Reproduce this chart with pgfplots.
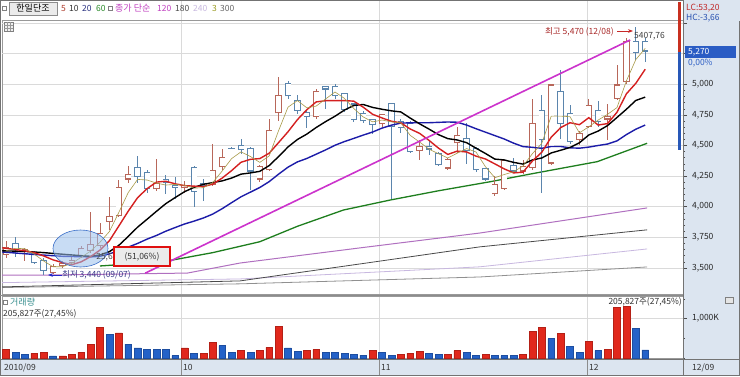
\documentclass[border=0pt]{standalone}
\usepackage{fontspec}
\setmainfont{Noto Sans CJK KR}
\usepackage{pgfplots}
\usepackage{pgfplotstable}
\pgfplotsset{compat=1.18}
\usetikzlibrary{arrows.meta}
\definecolor{upc}{HTML}{B8675A}
\definecolor{dnc}{HTML}{5B85AD}
\definecolor{ma3}{HTML}{A89A48}
\definecolor{ma5}{HTML}{D42020}
\definecolor{ma20}{HTML}{1C1CA8}
\definecolor{ma60}{HTML}{1E7E1E}
\definecolor{trend}{HTML}{CC33CC}
\definecolor{ma120}{HTML}{B070C0}
\definecolor{ma180}{HTML}{4A4A4A}
\definecolor{ma240}{HTML}{C8B8E0}
\definecolor{ma300}{HTML}{909090}
\definecolor{panel}{HTML}{DCE5F0}
\definecolor{vred}{HTML}{E1281C}
\definecolor{vblue}{HTML}{2462C8}
\definecolor{gridc}{HTML}{DADADA}
\definecolor{ellf}{HTML}{9CC0EC}
\definecolor{ellb}{HTML}{3A6EC8}
\definecolor{boxred}{HTML}{E01010}
\definecolor{c5}{HTML}{B04030}
\definecolor{c20}{HTML}{283080}
\definecolor{c60}{HTML}{2A8A2A}
\definecolor{cmag}{HTML}{C040C0}
\definecolor{c3}{HTML}{9A9A20}
\definecolor{lcred}{HTML}{C02828}
\definecolor{hcblue}{HTML}{2850B0}
\definecolor{posred}{HTML}{C83020}
\definecolor{posblue}{HTML}{2858B8}
\definecolor{pricebl}{HTML}{2A5CC4}
\definecolor{hitext}{HTML}{A82828}
\definecolor{hiarrow}{HTML}{C82828}
\definecolor{loarrow}{HTML}{2828C8}
\definecolor{lotext}{HTML}{3A3A8A}
\definecolor{teal}{HTML}{3A9090}
\newcommand{\fs}{\fontsize{8.5}{10}\selectfont}
\newcommand{\fk}{\fontsize{9}{10}\selectfont}
% up candles: index open high low close
\pgfplotstableread{
i o h l c
0 3610 3720 3580 3670
2 3630 3660 3560 3650
5 3460 3530 3450 3510
6 3520 3560 3500 3540
7 3540 3590 3520 3560
8 3590 3680 3580 3660
9 3640 3960 3620 3690
10 3680 3870 3660 3780
11 3880 4080 3810 3920
12 3930 4220 3920 4160
13 4225 4330 4190 4265
16 4145 4390 4130 4190
19 4160 4210 4110 4170
22 4180 4510 4170 4300
23 4325 4470 4300 4405
27 4225 4340 4200 4330
28 4300 4715 4290 4625
29 4765 5060 4700 4910
33 4735 4960 4720 4945
40 4675 4760 4650 4755
44 4460 4545 4380 4490
47 4315 4400 4300 4385
48 4520 4655 4440 4585
52 4105 4250 4090 4185
53 4150 4385 4140 4380
55 4290 4380 4270 4330
56 4320 4880 4300 4680
58 4355 5000 4340 4995
61 4545 4620 4500 4600
62 4655 4880 4640 4830
64 4715 4835 4545 4740
65 4885 5160 4870 4995
66 5020 5380 5000 5350
}\upT
% down candles
\pgfplotstableread{
i o h l c
1 3700 3750 3590 3650
3 3620 3640 3530 3540
4 3560 3580 3440 3480
14 4320 4415 4190 4245
15 4280 4300 4110 4145
17 4225 4260 4100 4195
18 4175 4240 4060 4160
20 4325 4330 4000 4125
21 4190 4230 4050 4170
24 4480 4490 4460 4475
25 4500 4550 4430 4465
26 4480 4490 4140 4290
30 5005 5030 4880 4905
31 4870 4910 4760 4785
32 4770 4780 4640 4735
34 4985 4990 4800 4960
35 4985 5000 4880 4905
36 4925 4930 4770 4790
37 4840 4850 4690 4710
38 4765 4780 4680 4700
39 4715 4720 4590 4670
41 4845 4850 4060 4655
42 4700 4720 4600 4645
43 4680 4700 4440 4450
45 4495 4545 4420 4470
46 4435 4445 4330 4340
49 4560 4680 4350 4455
50 4475 4490 4280 4300
51 4315 4320 4210 4225
54 4335 4400 4280 4290
57 4790 4915 4110 4545
59 4940 5120 4550 4680
60 4765 4830 4510 4530
63 4785 4865 4650 4695
67 5350 5470 5200 5260
68 5350 5380 5180 5270
}\dnT
\pgfplotsset{
 wick/.style={draw=none, mark=none, error bars/.cd, y dir=both, y explicit, error mark=none, error bar style={draw=#1, line width=0.7pt}},
 bodyout/.style={draw=none, mark=none, error bars/.cd, y dir=plus, y explicit, error mark=none, error bar style={draw=#1, line width=6.4pt, shorten <=-0.4pt, shorten >=-0.4pt}},
 bodyin/.style={draw=none, mark=none, error bars/.cd, y dir=plus, y explicit, error mark=none, error bar style={draw=white, line width=5pt, shorten <=0.75pt, shorten >=0.75pt}},
}
% #1 table, #2 colour, #3 column holding the lower end of the body
\newcommand{\candles}[3]{%
 \addplot[wick=#2] table[x=i, y=c, y error plus expr=\thisrow{h}-\thisrow{c}, y error minus expr=\thisrow{c}-\thisrow{l}] {#1};
 \addplot[bodyout=#2] table[x=i, y=#3, y error plus expr={max(abs(\thisrow{c}-\thisrow{o}),2)}] {#1};
 \addplot[bodyin] table[x=i, y=#3, y error plus expr={max(abs(\thisrow{c}-\thisrow{o}),2)}] {#1};
}
\begin{document}
\begin{tikzpicture}[x=1pt,y=1pt]
\useasboundingbox (0,0) rectangle (740,376);
\fill[white] (0,0) rectangle (740,376);
\fill[panel] (683,0) rectangle (740,376);
\fill[panel] (0,0) rectangle (740,17);
\foreach \xx in {181,379,587} {\draw[gridc] (\xx,17) -- (\xx,376);}
\foreach \xx in {181,379,587} {\draw[black!45] (\xx,0) -- (\xx,17);}
\draw[black!55] (0,17) -- (740,17);

% ---------------- price panel ----------------
\begin{axis}[at={(2pt,82pt)}, anchor=south west, scale only axis,
 width=681pt, height=274pt,
 xmin=-0.4255, xmax=72.02, ymin=3287, ymax=5525,
 axis line style={draw=black!40},
 xtick=\empty, ytick={3500,3750,...,5000}, minor y tick num=4,
 extra y ticks={5250,5500}, extra y tick labels={},
 extra y tick style={grid=major, minor y tick num=4},
 ytick pos=right, tick align=outside, major tick length=4pt, minor tick length=2pt,
 tick style={black!70, line width=0.5pt},
 ymajorgrids, major grid style={draw=gridc, line width=0.6pt},
 yticklabel style={font=\fs, text=black!85, anchor=west, inner sep=0pt, xshift=5pt},
 /pgf/number format/.cd, 1000 sep={,}, assume math mode=true]
% long moving averages
\addplot[ma300, line width=0.8pt] coordinates {(-0.4,3340)(24.9,3370)(50.4,3426)(68.2,3508)};
\addplot[ma240, line width=0.8pt] coordinates {(-0.4,3380)(24.9,3410)(50.4,3509)(68.2,3655)};
\addplot[ma180, line width=0.8pt] coordinates {(-0.4,3345)(24.9,3394)(37.7,3533)(50.4,3672)(68.2,3811)};
\addplot[ma120, line width=1pt] coordinates {(-0.4,3442)(4.7,3442)(19.3,3458)(24.9,3540)(37.7,3664)(50.4,3785)(68.2,3990)};
\addplot[ma60, line width=1.3pt] coordinates {(10,3516)(16.7,3550)(22,3625)(27,3714)(31,3840)(35.9,3973)(40.9,4055)(46,4130)(51.5,4204)(56,4270)(62.9,4368)(68.2,4518)};
% candles
\candles{\upT}{upc}{o}
\candles{\dnT}{dnc}{c}
% short moving averages
\addplot[ma20, line width=1.4pt] coordinates {(-0.4,3630)(3,3610)(6,3595)(9,3590)(10,3595)(11,3615)(12,3640)(13,3670)(14,3700)(15,3735)(16,3765)(17,3800)(18,3830)(19,3859)(20,3882)(21,3908)(22,3940)(23,3984)(24,4033)(25,4081)(26,4119)(27,4157)(28,4205)(29,4266)(30,4323)(31,4366)(32,4394)(33,4429)(34,4464)(35,4502)(36,4532)(37,4558)(38,4585)(39,4610)(40,4642)(41,4666)(42,4683)(43,4685)(44,4686)(45,4686)(46,4689)(47,4692)(48,4690)(49,4667)(50,4637)(51,4609)(52,4581)(53,4553)(54,4519)(55,4491)(56,4485)(57,4477)(58,4492)(59,4492)(60,4481)(61,4478)(62,4487)(63,4500)(64,4512)(65,4538)(66,4589)(67,4633)(68,4667)};
\addplot[black, line width=1.4pt] coordinates {(-0.4,3640)(2,3635)(4,3625)(6,3612)(8,3600)(9,3595)(10,3606)(11,3633)(12,3684)(13,3757)(14,3833)(15,3897)(16,3962)(17,4025)(18,4075)(19,4123)(20,4158)(21,4183)(22,4197)(23,4211)(24,4234)(25,4266)(26,4276)(27,4289)(28,4336)(29,4410)(30,4488)(31,4549)(32,4593)(33,4647)(34,4695)(35,4739)(36,4789)(37,4827)(38,4835)(39,4811)(40,4796)(41,4783)(42,4774)(43,4724)(44,4677)(45,4634)(46,4589)(47,4556)(48,4545)(49,4523)(50,4478)(51,4435)(52,4389)(53,4382)(54,4362)(55,4348)(56,4382)(57,4398)(58,4439)(59,4461)(60,4484)(61,4522)(62,4586)(63,4618)(64,4663)(65,4729)(66,4796)(67,4868)(68,4895)};
\addplot[ma5, line width=1.4pt] coordinates {(-0.4,3665)(0,3660)(1,3650)(2,3640)(3,3625)(4,3598)(5,3566)(6,3544)(7,3526)(8,3550)(9,3592)(10,3646)(11,3722)(12,3842)(13,3963)(14,4074)(15,4147)(16,4201)(17,4208)(18,4187)(19,4172)(20,4168)(21,4164)(22,4185)(23,4234)(24,4295)(25,4363)(26,4387)(27,4393)(28,4437)(29,4524)(30,4612)(31,4711)(32,4792)(33,4856)(34,4866)(35,4866)(36,4867)(37,4862)(38,4813)(39,4755)(40,4725)(41,4698)(42,4685)(43,4635)(44,4599)(45,4542)(46,4479)(47,4427)(48,4454)(49,4447)(50,4413)(51,4390)(52,4350)(53,4309)(54,4276)(55,4282)(56,4373)(57,4445)(58,4568)(59,4646)(60,4686)(61,4670)(62,4727)(63,4667)(64,4679)(65,4772)(66,4922)(67,5008)(68,5123)};
\addplot[ma3, line width=0.6pt] coordinates {(0,3640)(1,3660)(2,3657)(3,3613)(4,3557)(5,3510)(6,3510)(7,3537)(8,3587)(9,3637)(10,3710)(11,3797)(12,3953)(13,4115)(14,4223)(15,4218)(16,4193)(17,4177)(18,4182)(19,4175)(20,4152)(21,4155)(22,4198)(23,4292)(24,4393)(25,4448)(26,4410)(27,4362)(28,4415)(29,4622)(30,4813)(31,4867)(32,4808)(33,4822)(34,4880)(35,4937)(36,4885)(37,4802)(38,4733)(39,4693)(40,4708)(41,4693)(42,4685)(43,4583)(44,4528)(45,4470)(46,4433)(47,4398)(48,4437)(49,4475)(50,4447)(51,4327)(52,4237)(53,4263)(54,4285)(55,4333)(56,4433)(57,4518)(58,4740)(59,4740)(60,4735)(61,4603)(62,4653)(63,4708)(64,4755)(65,4810)(66,5028)(67,5202)(68,5293)};
% trend line
\addplot[trend, line width=1.6pt] coordinates {(14.8,3457)(66.4,5362)};
\end{axis}

% ---------------- volume panel ----------------
\begin{axis}[at={(2pt,18pt)}, anchor=south west, scale only axis,
 width=681pt, height=62pt,
 xmin=-0.4255, xmax=72.02, ymin=0, ymax=1574,
 axis line style={draw=black!40},
 xtick=\empty, ytick={1000}, yticklabel={1{,}000K}, minor ytick={0,500,1500},
 ytick pos=right, tick align=outside, major tick length=4pt, minor tick length=2pt,
 tick style={black!70, line width=0.5pt},
 ymajorgrids, major grid style={draw=gridc, line width=0.6pt},
 yticklabel style={font=\fs, text=black!85, anchor=west, inner sep=0pt, xshift=5pt}]
\addplot[ybar, bar width=6.8pt, bar shift=0pt, fill=vred, draw=vred!80!black, line width=0.4pt] coordinates {(0,211)(3,118)(4,144)(6,51)(7,93)(8,144)(9,338)(10,787)(12,635)(19,254)(21,118)(22,398)(25,186)(27,186)(28,271)(29,812)(32,186)(33,211)(39,186)(42,101)(43,118)(44,160)(47,101)(48,186)(51,101)(55,85)(56,685)(57,770)(59,618)(62,423)(64,211)(65,1278)(66,1312)};
\addplot[ybar, bar width=6.8pt, bar shift=0pt, fill=vblue, draw=vblue!80!black, line width=0.4pt] coordinates {(1,135)(2,93)(5,51)(11,592)(13,355)(14,254)(15,228)(16,211)(17,211)(18,59)(20,118)(23,313)(24,135)(26,135)(30,254)(31,169)(34,135)(35,135)(36,118)(37,93)(38,76)(40,135)(41,76)(45,118)(46,101)(49,144)(50,76)(52,59)(53,59)(54,59)(58,491)(60,296)(61,144)(63,186)(67,753)(68,206)};
\end{axis}

% ---------------- frames and overlays ----------------
\draw[black!55] (683,0) -- (683,376);
\draw[black!55] (0.5,0.5) rectangle (739.5,375.5);
\draw[black!45] (0,81) -- (683,81);

% header
\draw[black!50, fill=white] (2.5,366) rectangle (6.5,370);
\draw[black!45, fill=black!8] (9,374) rectangle (57,361);
\node[font=\fk, inner sep=0pt] at (33,367.5) {한일단조};
\node[font=\fs, inner sep=0pt, anchor=west, text=c5] at (61,367.5) {5};
\node[font=\fs, inner sep=0pt, anchor=west, text=black!80] at (69,367.5) {10};
\node[font=\fs, inner sep=0pt, anchor=west, text=c20] at (82,367.5) {20};
\node[font=\fs, inner sep=0pt, anchor=west, text=c60] at (96,367.5) {60};
\draw[black!50, fill=white] (108.5,366) rectangle (112.5,370);
\node[font=\fk, inner sep=0pt, anchor=west, text=cmag] at (115,367.5) {종가 단순};
\node[font=\fs, inner sep=0pt, anchor=west, text=cmag] at (157,367.5) {120};
\node[font=\fs, inner sep=0pt, anchor=west, text=black!70] at (175,367.5) {180};
\node[font=\fs, inner sep=0pt, anchor=west, text=ma240] at (193,367.5) {240};
\node[font=\fs, inner sep=0pt, anchor=west, text=c3] at (212,367.5) {3};
\node[font=\fs, inner sep=0pt, anchor=west, text=black!60] at (220,367.5) {300};
% small grid icon
\draw[black!50, fill=black!6] (4,354) rectangle (13,345);
\draw[black!40] (7,354) -- (7,345) (10,354) -- (10,345) (4,351) -- (13,351) (4,348) -- (13,348);

% right top LC / HC
\fill[panel] (684,355) rectangle (740,376);
\node[font=\fs, inner sep=0pt, anchor=west, text=lcred] at (686,368) {LC:53,20};
\node[font=\fs, inner sep=0pt, anchor=west, text=hcblue] at (686,357.5) {HC:-3,66};
% position bar
\fill[posred] (678,374) rectangle (681,324);
\fill[posblue] (678,324) rectangle (681,226);
% current price label
\fill[pricebl] (685,330) rectangle (736,318);
\node[font=\fs, inner sep=0pt, anchor=west, text=white] at (688,324) {5,270};
\node[font=\fs, inner sep=0pt, anchor=west, text=pricebl] at (688,313) {0,00\%};

% high marker
\node[font=\fs, inner sep=0pt, anchor=east, text=hitext] at (614,344) {최고 5,470 (12/08)};
\draw[-{Stealth[length=5pt]}, draw=hiarrow, fill=hiarrow, line width=0.8pt] (617,345) -- (633,345);
\node[font=\fs, inner sep=0pt, anchor=west, text=black!75] at (634,340) {5407,76};

% ellipse
\draw[draw=ellb, fill=ellf, fill opacity=0.55, line width=0.6pt] (80.5,127.5) ellipse (27.5 and 18.5);
% red box
\node[font=\fs, inner sep=0pt, anchor=east, text=black!70] at (113,119) {25,6};
\draw[draw=boxred, line width=2.5pt, fill=black!8] (114,129) rectangle (170,110);
\node[font=\fs, inner sep=0pt, text=black!80] at (142,119.5) {(51,06\%)};
% low marker
\draw[-{Stealth[length=5pt]}, draw=loarrow, fill=loarrow, line width=0.8pt] (62,101) -- (48,101);
\node[font=\fs, inner sep=0pt, anchor=west, text=lotext] at (62,101) {최저 3,440 (09/07)};

% volume texts
\draw[black!50, fill=white] (3,71.5) rectangle (7,75.5);
\node[font=\fk, inner sep=0pt, anchor=west, text=teal] at (10,73.5) {거래량};
\node[font=\fs, inner sep=0pt, anchor=west, text=black!80] at (3,62.5) {205,827주(27,45\%)};
\node[font=\fs, inner sep=0pt, anchor=east, text=black!80] at (682,74) {205,827주(27,45\%)};
\draw[black!50, fill=black!10] (725,79) rectangle (733,73);

% date bar
\node[font=\fs, inner sep=0pt, anchor=west, text=black!80] at (4,8.5) {2010/09};
\node[font=\fs, inner sep=0pt, anchor=west, text=black!80] at (183,8.5) {10};
\node[font=\fs, inner sep=0pt, anchor=west, text=black!80] at (381,8.5) {11};
\node[font=\fs, inner sep=0pt, anchor=west, text=black!80] at (589,8.5) {12};
\node[font=\fs, inner sep=0pt, anchor=west, text=black!80] at (692,8.5) {12/09};
\end{tikzpicture}
\end{document}
